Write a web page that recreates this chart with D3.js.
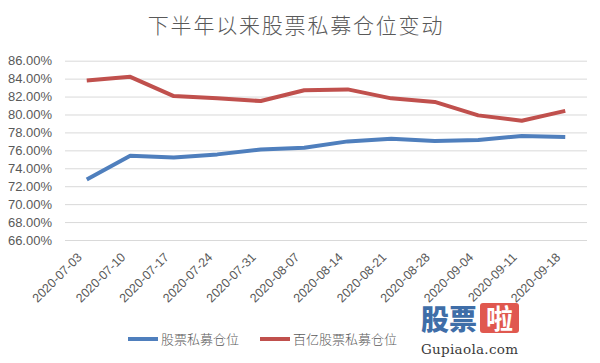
<!DOCTYPE html>
<html><head><meta charset="utf-8">
<script src="https://cdn.jsdelivr.net/npm/d3@7"></script>
<style>body{margin:0;background:#fff}svg{display:block}</style>
</head><body>
<script>
const dates = ["2020-07-03","2020-07-10","2020-07-17","2020-07-24","2020-07-31","2020-08-07","2020-08-14","2020-08-21","2020-08-28","2020-09-04","2020-09-11","2020-09-18"];
const stockPE = [72.75,75.4,75.2,75.55,76.1,76.3,77.0,77.3,77.05,77.15,77.6,77.5];
const bigPE = [83.8,84.2,82.05,81.8,81.5,82.7,82.8,81.8,81.4,79.9,79.3,80.4];
const yTicks = [66,68,70,72,74,76,78,80,82,84,86];
const seriesNames = ["股票私募仓位","百亿股票私募仓位"];
const colors = ["#4f7fbd","#c0504d"];
const title = "下半年以来股票私募仓位变动";

const W=600,H=363;
const svg=d3.select("body").append("svg").attr("width",W).attr("height",H);
const x=d3.scaleBand().domain(dates).range([65,587]);
const y=d3.scaleLinear().domain([66,86]).range([240,60.7]);

svg.append("text").attr("x",296).attr("y",33).attr("text-anchor","middle")
  .attr("font-family","Noto Sans CJK SC").attr("font-weight",300).attr("font-size",21)
  .attr("fill","#595959").attr("letter-spacing",1.8).text(title);

const ya=svg.append("g").attr("transform","translate(65,0)")
  .call(d3.axisLeft(y).tickValues(yTicks).tickSize(-(587-65)).tickPadding(13).tickFormat(d=>d.toFixed(2)+"%"));
ya.select(".domain").remove();
ya.selectAll(".tick line").attr("stroke","#d9d9d9").attr("stroke-width",1);
ya.selectAll("text").attr("fill","#595959").attr("font-family","Liberation Sans, Arial").attr("font-size",13);

const xa=svg.append("g").attr("transform","translate(0,240)")
  .call(d3.axisBottom(x).tickSize(0).tickPadding(0));
xa.select(".domain").remove();
xa.selectAll("text").attr("fill","#595959").attr("font-family","Liberation Sans, Arial").attr("font-size",12.5)
  .attr("text-anchor","end").attr("dy",0)
  .attr("transform","translate(-4,18) rotate(-45)");

const line=d3.line().x((d,i)=>x(dates[i])+x.bandwidth()/2).y(d=>y(d));
[stockPE,bigPE].forEach((s,k)=>{
  svg.append("path").datum(s).attr("d",line).attr("fill","none")
    .attr("stroke",colors[k]).attr("stroke-width",4).attr("stroke-linejoin","round").attr("stroke-linecap","butt");
});

const leg=[{x:128,n:seriesNames[0],c:colors[0]},{x:260,n:seriesNames[1],c:colors[1]}];
leg.forEach(l=>{
  svg.append("line").attr("x1",l.x).attr("x2",l.x+30).attr("y1",339).attr("y2",339).attr("stroke",l.c).attr("stroke-width",4);
  svg.append("text").attr("x",l.x+33).attr("y",344).attr("font-family","Noto Sans CJK SC").attr("font-weight",300)
    .attr("font-size",13).attr("fill","#595959").text(l.n);
});

// watermark
svg.append("text").attr("x",421).attr("y",330).attr("font-family","Noto Sans CJK SC").attr("font-weight",900)
  .attr("font-size",28).attr("fill","#3f6ea8").text("股票");
svg.append("rect").attr("x",480).attr("y",303).attr("width",39).attr("height",30).attr("rx",3).attr("fill","#e0584f");
svg.append("text").attr("x",499.5).attr("y",329).attr("text-anchor","middle").attr("font-family","Noto Sans CJK SC").attr("font-weight",700)
  .attr("font-size",27).attr("fill","#fff").text("啦");
svg.append("text").attr("x",421).attr("y",354).attr("font-family","DejaVu Serif").attr("font-size",13.5)
  .attr("fill","#3a3a3a").attr("textLength",97).text("Gupiaola.com");
</script>
</body></html>
